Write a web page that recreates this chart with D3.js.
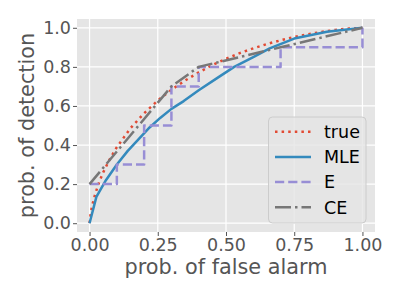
<!DOCTYPE html>
<style>
body { margin: 0; background: #fff; }
text { font-family: "DejaVu Sans", sans-serif; }
.axis .domain { display: none; }
.axis line { stroke: #555555; }
.axis text { fill: #555555; font-size: 17.5px; }
.grid line { stroke: #ffffff; stroke-width: 1.2; }
</style>
<div id="roc"></div>
<script src="https://d3js.org/d3.v7.min.js"></script>
<script>

// values
var trueFa  = [0, 0.005, 0.01, 0.02, 0.035, 0.05, 0.075, 0.1, 0.15, 0.2, 0.25, 0.3, 0.35, 0.4, 0.45, 0.5, 0.55, 0.6, 0.65, 0.7, 0.75, 0.8, 0.85, 0.9, 0.95, 1];
var trueDet = [0, 0.058, 0.092, 0.146, 0.21, 0.26, 0.33, 0.389, 0.486, 0.563, 0.628, 0.683, 0.73, 0.772, 0.809, 0.841, 0.87, 0.895, 0.917, 0.936, 0.953, 0.967, 0.979, 0.989, 0.996, 1];

var mleFa  = [0, 0.025, 0.06, 0.1, 0.14, 0.18, 0.22, 0.26, 0.3, 0.345, 0.4, 0.47, 0.53, 0.6, 0.66, 0.75, 0.87, 1];
var mleDet = [0, 0.135, 0.22, 0.3, 0.37, 0.43, 0.49, 0.54, 0.585, 0.625, 0.68, 0.745, 0.8, 0.85, 0.895, 0.945, 0.98, 1];

var eFa  = [0, 0.1, 0.1, 0.2, 0.2, 0.3, 0.3, 0.4, 0.4, 0.7, 0.7, 1, 1];
var eDet = [0.2, 0.2, 0.3, 0.3, 0.5, 0.5, 0.7, 0.7, 0.8, 0.8, 0.9, 0.9, 1];

var ceFa  = [0, 0.3, 0.4, 0.7, 1];
var ceDet = [0.2, 0.7, 0.8, 0.9, 1];

var xTicks = [0, 0.25, 0.5, 0.75, 1];
var yTicks = [0, 0.2, 0.4, 0.6, 0.8, 1];

var series = [
  {name: "true", fa: trueFa, det: trueDet, color: "#E24A33", dash: "2.5,4.1"},
  {name: "MLE",  fa: mleFa,  det: mleDet,  color: "#348ABD", dash: null},
  {name: "E",    fa: eFa,    det: eDet,    color: "#988ED5", dash: "9.2,4"},
  {name: "CE",   fa: ceFa,   det: ceDet,   color: "#777777", dash: "16,4,2.5,4"}
];

var svg = d3.select("#roc").append("svg")
    .attr("width", 399)
    .attr("height", 299);

var pLeft = 77, pRight = 375, pTop = 19, pBottom = 232;

var x = d3.scaleLinear().domain([-0.046, 1.046]).range([pLeft, pRight]);
var y = d3.scaleLinear().domain([-0.045, 1.045]).range([pBottom, pTop]);

svg.append("rect")
    .attr("x", pLeft).attr("y", pTop)
    .attr("width", pRight - pLeft).attr("height", pBottom - pTop)
    .attr("fill", "#E5E5E5");

var grid = svg.append("g").attr("class", "grid");
grid.selectAll(".gx").data(xTicks).enter().append("line")
    .attr("x1", function(d) { return x(d); }).attr("x2", function(d) { return x(d); })
    .attr("y1", pTop).attr("y2", pBottom);
grid.selectAll(".gy").data(yTicks).enter().append("line")
    .attr("y1", function(d) { return y(d); }).attr("y2", function(d) { return y(d); })
    .attr("x1", pLeft).attr("x2", pRight);

svg.append("g")
    .attr("class", "axis")
    .attr("transform", "translate(0," + pBottom + ")")
    .call(d3.axisBottom(x).tickValues(xTicks).tickFormat(d3.format(".2f")).tickSize(4).tickPadding(3).tickSizeOuter(0));

svg.append("g")
    .attr("class", "axis")
    .attr("transform", "translate(" + pLeft + ",0)")
    .call(d3.axisLeft(y).tickValues(yTicks).tickFormat(d3.format(".1f")).tickSize(4).tickPadding(2).tickSizeOuter(0));

svg.append("text")
    .attr("x", (pLeft + pRight) / 2)
    .attr("y", 274)
    .attr("text-anchor", "middle")
    .attr("font-size", 20.8)
    .attr("fill", "#555555")
    .text("prob. of false alarm");

svg.append("text")
    .attr("transform", "translate(34," + ((pTop + pBottom) / 2) + ") rotate(-90)")
    .attr("text-anchor", "middle")
    .attr("font-size", 20.8)
    .attr("fill", "#555555")
    .text("prob. of detection");

var line = d3.line()
    .x(function(d) { return x(d[0]); })
    .y(function(d) { return y(d[1]); });

var plot = svg.append("g");
series.forEach(function(s) {
  var pts = s.fa.map(function(v, i) { return [v, s.det[i]]; });
  plot.append("path")
      .datum(pts)
      .attr("d", line)
      .attr("fill", "none")
      .attr("stroke", s.color)
      .attr("stroke-width", 2.5)
      .attr("stroke-dasharray", s.dash)
      .attr("stroke-linejoin", "round");
});

// legend
var legend = svg.append("g");
legend.append("rect")
    .attr("x", 268.5).attr("y", 117)
    .attr("width", 97.5).attr("height", 106)
    .attr("rx", 4)
    .attr("fill", "#E5E5E5")
    .attr("fill-opacity", 0.8)
    .attr("stroke", "#CCCCCC")
    .attr("stroke-width", 1);

var item = legend.selectAll(".item")
    .data(series)
    .enter().append("g")
      .attr("transform", function(d, i) { return "translate(0," + (131.7 + i * 25.2) + ")"; });

item.append("line")
    .attr("x1", 275).attr("x2", 311)
    .attr("stroke", function(d) { return d.color; })
    .attr("stroke-width", 2.5)
    .attr("stroke-dasharray", function(d) { return d.dash; });

item.append("text")
    .attr("x", 324)
    .attr("dy", "0.36em")
    .attr("font-size", 17.5)
    .attr("fill", "#000")
    .text(function(d) { return d.name; });

</script>
